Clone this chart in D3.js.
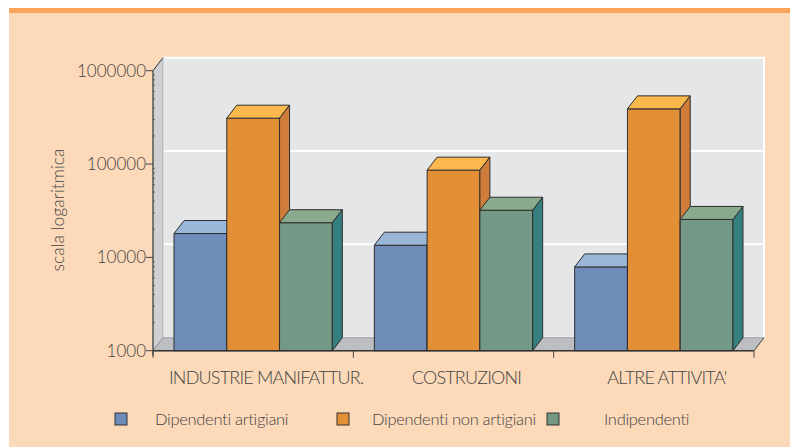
<!DOCTYPE html>
<html>
<head>
<meta charset="utf-8">
<script src="https://cdn.jsdelivr.net/npm/d3@7"></script>
<style>
  body { margin: 0; background: #fff; }
  text { font-family: "Lato", "Liberation Sans", sans-serif; font-weight: 300; fill: #444; }
</style>
</head>
<body>
<svg width="790" height="447"></svg>
<script>
const width = 790;
const height = 447;

const categories = ["INDUSTRIE MANIFATTUR.", "COSTRUZIONI", "ALTRE ATTIVITA'"];
const series = ["Dipendenti artigiani", "Dipendenti non artigiani", "Indipendenti"];
const artigiani = [18000, 13500, 7900];
const nonArtigiani = [310000, 86000, 390000];
const indipendenti = [23500, 32000, 25500];
const yTicks = [1000, 10000, 100000, 1000000];

const values = [artigiani, nonArtigiani, indipendenti];

// colori: fronte, sopra, lato
const colors = [
  { front: "#6f8cb8", top: "#9ab7da", side: "#5a79a6" },
  { front: "#e38f36", top: "#fbb84c", side: "#cf7c3a" },
  { front: "#739886", top: "#89aa8c", side: "#35807e" }
];

const svg = d3.select("svg");

// sfondo
svg.append("rect").attr("x", 9).attr("y", 8).attr("width", width - 9).attr("height", height - 8).attr("fill", "#fcd9b9");
svg.append("rect").attr("x", 9).attr("y", 8).attr("width", width - 9).attr("height", 5).attr("fill", "#f9a65c");

const depthX = 10, depthY = -13;
const pLeft = 153, pRight = 754, pBottom = 350.7, pTop = 70.7;

const y = d3.scaleLog().domain([1000, 1000000]).range([pBottom, pTop]);
const x = d3.scaleBand().domain(categories).range([pLeft, pRight]);
const xi = d3.scaleBand().domain(series).range([21, x.bandwidth() - 21]);

const poly = pts => "M" + pts.map(p => p.join(",")).join("L") + "Z";

// parete di fondo
svg.append("rect")
  .attr("x", pLeft + depthX).attr("y", pTop + depthY)
  .attr("width", pRight - pLeft).attr("height", pBottom - pTop)
  .attr("fill", "#e5e6e8").attr("stroke", "#fff").attr("stroke-width", 2);

// griglia
svg.append("g").selectAll("line")
  .data(yTicks.slice(1, -1))
  .join("line")
  .attr("x1", pLeft + depthX + 1).attr("x2", pRight + depthX)
  .attr("y1", d => y(d) + depthY).attr("y2", d => y(d) + depthY)
  .attr("stroke", "#fff").attr("stroke-width", 2);

// parete laterale
svg.append("path")
  .attr("d", poly([[pLeft, pTop], [pLeft + depthX, pTop + depthY], [pLeft + depthX, pBottom + depthY], [pLeft, pBottom]]))
  .attr("fill", "#cfd0d3").attr("stroke", "#9a9a9c").attr("stroke-width", 0.8);

// pavimento
svg.append("path")
  .attr("d", poly([[pLeft, pBottom], [pLeft + depthX, pBottom + depthY], [pRight + depthX, pBottom + depthY], [pRight, pBottom]]))
  .attr("fill", "#bdbec1").attr("stroke", "#8a8a8c").attr("stroke-width", 0.8);

// barre
const groups = svg.append("g").selectAll("g")
  .data(categories)
  .join("g")
  .attr("transform", d => `translate(${x(d)},0)`);

groups.each(function(cat, ci) {
  const g = d3.select(this);
  series.forEach((s, si) => {
    const v = values[si][ci];
    const x0 = xi(s), x1 = xi(s) + xi.bandwidth();
    const yt = y(v);
    const c = colors[si];
    g.append("path")
      .attr("d", poly([[x0, yt], [x1, yt], [x1, pBottom], [x0, pBottom]]))
      .attr("fill", c.front).attr("stroke", "#2e2e2e").attr("stroke-width", 1);
    g.append("path")
      .attr("d", poly([[x0, yt], [x0 + depthX, yt + depthY], [x1 + depthX, yt + depthY], [x1, yt]]))
      .attr("fill", c.top).attr("stroke", "#2e2e2e").attr("stroke-width", 1);
    g.append("path")
      .attr("d", poly([[x1, yt], [x1 + depthX, yt + depthY], [x1 + depthX, pBottom + depthY], [x1, pBottom]]))
      .attr("fill", c.side).attr("stroke", "#2e2e2e").attr("stroke-width", 1);
  });
});

// asse y
const minor = [];
for (let e = 3; e < 6; e++) for (let k = 2; k < 10; k++) minor.push(k * Math.pow(10, e));
svg.append("g").selectAll("line")
  .data(minor)
  .join("line")
  .attr("x1", pLeft).attr("x2", pLeft + 2)
  .attr("y1", d => y(d)).attr("y2", d => y(d))
  .attr("stroke", "#555").attr("stroke-width", 0.8);

svg.append("line")
  .attr("x1", pLeft).attr("x2", pLeft).attr("y1", pTop).attr("y2", pBottom + 5)
  .attr("stroke", "#444").attr("stroke-width", 1.2);
svg.append("line")
  .attr("x1", pLeft).attr("x2", pLeft + depthX).attr("y1", pTop).attr("y2", pTop + depthY)
  .attr("stroke", "#444").attr("stroke-width", 1);

const yAxis = svg.append("g");
yAxis.selectAll("line")
  .data(yTicks)
  .join("line")
  .attr("x1", pLeft - 7).attr("x2", pLeft)
  .attr("y1", d => y(d)).attr("y2", d => y(d))
  .attr("stroke", "#444").attr("stroke-width", 1);
yAxis.selectAll("text")
  .data(yTicks)
  .join("text")
  .attr("x", pLeft - 7).attr("y", d => y(d))
  .attr("text-anchor", "end").attr("dy", "0.35em")
  .style("font-size", "17px")
  .text(d => d);

svg.append("text")
  .attr("transform", `translate(64,210) rotate(-90)`)
  .attr("text-anchor", "middle")
  .style("font-size", "17.5px")
  .text("scala logaritmica");

// asse x
svg.append("line")
  .attr("x1", pLeft).attr("x2", pRight).attr("y1", pBottom).attr("y2", pBottom)
  .attr("stroke", "#333").attr("stroke-width", 1.5);
svg.append("line")
  .attr("x1", pRight).attr("x2", pRight + depthX).attr("y1", pBottom).attr("y2", pBottom + depthY)
  .attr("stroke", "#555").attr("stroke-width", 1);
svg.append("g").selectAll("line")
  .data(categories.concat([null]))
  .join("line")
  .attr("x1", (d, i) => pLeft + i * x.step()).attr("x2", (d, i) => pLeft + i * x.step())
  .attr("y1", pBottom).attr("y2", pBottom + 7)
  .attr("stroke", "#444").attr("stroke-width", 1);

svg.append("g").selectAll("text")
  .data(categories)
  .join("text")
  .attr("x", d => x(d) + x.bandwidth() / 2 + 13)
  .attr("y", 383.5)
  .attr("text-anchor", "middle")
  .style("font-size", "18px")
  .style("letter-spacing", "-0.8px")
  .text(d => d);

// legenda
const legendX = [115, 337, 547];
const legendPad = [40, 35, 57];
const legend = svg.append("g").selectAll("g")
  .data(series)
  .join("g")
  .attr("transform", (d, i) => `translate(${legendX[i]},413)`);
legend.append("rect")
  .attr("width", 12).attr("height", 12)
  .attr("fill", (d, i) => colors[i].front)
  .attr("stroke", "#333").attr("stroke-width", 1);
legend.append("text")
  .attr("x", (d, i) => legendPad[i]).attr("y", 6).attr("dy", "0.35em")
  .style("font-size", "16.5px")
  .style("letter-spacing", "-0.3px")
  .text(d => d);
</script>
</body>
</html>
